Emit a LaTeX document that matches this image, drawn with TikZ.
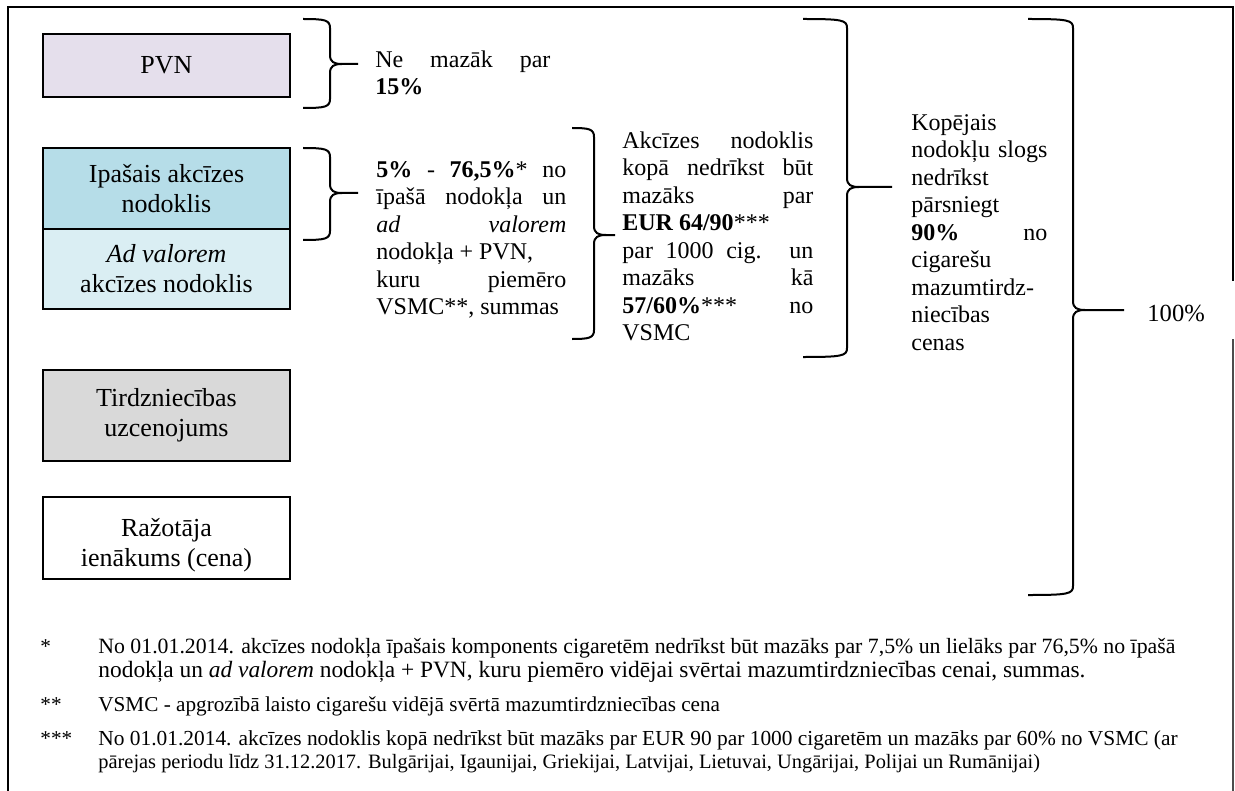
\documentclass[tikz,border=0pt]{standalone}
\usepackage{fontspec}
\setmainfont{Liberation Serif}
\definecolor{cpvn}{HTML}{E5DFEC}
\definecolor{cspec}{HTML}{B6DDE8}
\definecolor{cadv}{HTML}{DAEEF3}
\definecolor{ctrade}{HTML}{D9D9D9}
\newcommand\rbr[6]{% x0 x1 x2 ytop ymid ybot (px)
  \draw[brc] (#1,#4) .. controls ({#2-5},#4) and (#2,{#4+1}) .. (#2,{#4+9})
    -- (#2,{#5-9}) .. controls (#2,{#5-2}) and ({#2+4},#5) .. ({#2+12},#5) -- (#3,#5);
  \draw[brc] ({#2+12},#5) .. controls ({#2+4},#5) and (#2,{#5+2}) .. (#2,{#5+9})
    -- (#2,{#6-9}) .. controls (#2,{#6-1}) and ({#2-5},#6) .. (#1,#6);
}
\begin{document}
\begin{tikzpicture}[x=0.5pt,y=-0.5pt,
  box/.style={draw=black,line width=0.75pt,minimum width=123.5pt,align=center,
    font=\fontsize{13}{15}\selectfont,inner sep=0pt},
  brc/.style={line width=1pt,line join=round},
  txt/.style={anchor=north west,inner sep=0pt,align=justify,
    font=\fontsize{12}{13.75}\selectfont},
  fn/.style={anchor=base west,inner sep=0pt,font=\fontsize{10.6}{12}\selectfont}]
\useasboundingbox (0,0) rectangle (1235,791);
% frame
\draw[line width=1pt] (8,791) -- (8,7) -- (1233,7) -- (1233,281);
\draw[line width=0.8pt,black!70] (1233,339) -- (1233,791);
% boxes
\node[box,fill=cpvn,minimum height=31.5pt] (pvn) at (166.5,65.5) {PVN};
\node[box,fill=cspec,minimum height=40.5pt] (spec) at (166.5,188.5) {Ipašais akcīzes\\nodoklis};
\node[box,fill=cadv,minimum height=40pt] (adv) at (166.5,269) {\textit{Ad valorem}\\akcīzes nodoklis};
\node[box,fill=ctrade,minimum height=45.5pt] (trade) at (166.5,415.5) {Tirdzniecības\\uzcenojums};
\node[box,fill=white,minimum height=41pt] (prod) at (166.5,538) {};
\node[align=center,inner sep=0pt,font=\fontsize{13}{15}\selectfont] (prodtext) at (166.5,545) {Ražotāja\\ienākums (cena)};
% braces
\rbr{303}{330}{358}{19}{64}{108}
\rbr{303}{330}{358}{148}{193}{240}
\rbr{572}{594}{615}{128}{235}{339}
\rbr{803}{847}{892}{19}{187}{357}
\rbr{1028}{1073}{1124}{19}{310}{595}
% texts
\node[txt,text width=87.5pt] (t1) at (375,47.75) {\strut Ne mazāk par\linebreak \textbf{15\%}};
\node[txt,text width=95pt] (t2) at (376,157.75) {\strut\textbf{5\%} - \textbf{76,5\%}* no\linebreak
īpašā nodokļa un\linebreak
\textit{ad} \textit{valorem}\linebreak
nodokļa + PVN,\\
kuru piemēro\linebreak
VSMC**, summas};
\node[txt,text width=95.5pt] (t3) at (622,128.75) {\strut Akcīzes nodoklis\linebreak
kopā nedrīkst būt\linebreak
mazāks par\linebreak
\textbf{EUR 64/90}***\\
par 1000 cig. un\linebreak
mazāks kā\linebreak
\textbf{57/60\%}*** no\linebreak
VSMC};
\node[txt,text width=68pt] (t4) at (911,110.75) {\strut Kopējais\\
nodokļu slogs\linebreak
nedrīkst\\
pārsniegt\\
\textbf{90\%} no\linebreak
cigarešu\\
mazumtirdz-\\
niecības\\
cenas};
\node[anchor=base west,inner sep=0pt,font=\fontsize{12.3}{14}\selectfont] (total) at (1147,321) {100\%};
% footnotes
\node[fn] (m1) at (40,653) {*};
\node[fn,font=\fontsize{10.9}{12}\selectfont] (f1a) at (98,653) {No 01.01.2014. akcīzes nodokļa īpašais komponents cigaretēm nedrīkst būt mazāks par 7,5\% un lielāks par 76,5\% no īpašā};
\node[fn,font=\fontsize{11.7}{13}\selectfont] (f1b) at (98,677) {nodokļa un \textit{ad valorem} nodokļa + PVN, kuru piemēro vidējai svērtai mazumtirdzniecības cenai, summas.};
\node[fn] (m2) at (40,711) {**};
\node[fn] (f2) at (98,711) {VSMC - apgrozībā laisto cigarešu vidējā svērtā mazumtirdzniecības cena};
\node[fn] (m3) at (40,745) {***};
\node[fn,font=\fontsize{10.7}{12}\selectfont] (f3a) at (98,745) {No 01.01.2014. akcīzes nodoklis kopā nedrīkst būt mazāks par EUR 90 par 1000 cigaretēm un mazāks par 60\% no VSMC (ar};
\node[fn,font=\fontsize{10.2}{12}\selectfont] (f3b) at (98,768) {pārejas periodu līdz 31.12.2017. Bulgārijai, Igaunijai, Griekijai, Latvijai, Lietuvai, Ungārijai, Polijai un Rumānijai)};
\end{tikzpicture}
\end{document}
